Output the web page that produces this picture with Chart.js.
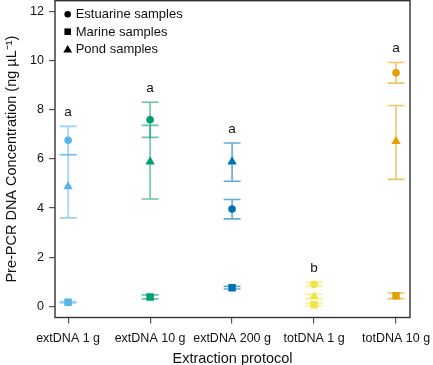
<!DOCTYPE html>
<html>
<head>
<meta charset="utf-8">
<script src="https://cdn.jsdelivr.net/npm/chart.js@4.4.1/dist/chart.umd.min.js"></script>
<style>
  html, body { margin: 0; padding: 0; background: #fff; }
  #wrap { width: 433px; height: 365px; }
</style>
</head>
<body>
<div id="wrap"><canvas id="c" width="433" height="365"></canvas></div>
<script>
// ---- data ----
const categories = ['extDNA 1 g', 'extDNA 10 g', 'extDNA 200 g', 'totDNA 1 g', 'totDNA 10 g'];
const categoryColors = ['#56B4E9', '#009E73', '#0072B2', '#F0E442', '#E69F00'];

const estuarineMean = [6.76, 7.60, 3.96, 0.89, 9.51];
const estuarineLow  = [6.18, 6.88, 3.56, 0.81, 9.09];
const estuarineHigh = [7.33, 8.31, 4.35, 0.97, 9.93];

const marineMean = [0.16, 0.38, 0.75, 0.06, 0.43];
const marineLow  = [0.13, 0.30, 0.70, 0.02, 0.31];
const marineHigh = [0.19, 0.46, 0.81, 0.12, 0.54];

const pondMean = [4.88, 5.89, 5.89, 0.40, 6.72];
const pondLow  = [3.60, 4.37, 5.09, 0.31, 5.17];
const pondHigh = [6.16, 7.37, 6.65, 0.49, 8.18];

const groupLetters = ['a', 'a', 'a', 'b', 'a'];
const letterY = [7.89, 8.89, 7.22, 1.54, 10.5];

const yTicks = [0, 2, 4, 6, 8, 10, 12];
const legendLabels = ['Estuarine samples', 'Marine samples', 'Pond samples'];

// ---- helpers ----
function hexA(hex, a) {
  const n = parseInt(hex.slice(1), 16);
  return `rgba(${(n >> 16) & 255},${(n >> 8) & 255},${n & 255},${a})`;
}
function pts(arr) { return arr.map((v, i) => ({ x: i, y: v })); }

const series = [
  { label: legendLabels[0], mean: estuarineMean, low: estuarineLow, high: estuarineHigh, style: 'circle', r: 3.8 },
  { label: legendLabels[1], mean: marineMean, low: marineLow, high: marineHigh, style: 'rect', r: 5.3 },
  { label: legendLabels[2], mean: pondMean, low: pondLow, high: pondHigh, style: 'triangle', r: 5.4 }
];

const FONT = '"Liberation Sans", Arial, Helvetica, sans-serif';

const extras = {
  id: 'extras',
  beforeDatasetsDraw(chart) {
    const ctx = chart.ctx, xs = chart.scales.x, ys = chart.scales.y;
    ctx.save();
    ctx.lineWidth = 1.6;
    series.forEach(s => {
      s.mean.forEach((m, i) => {
        const x = xs.getPixelForValue(i);
        const yl = ys.getPixelForValue(s.low[i]);
        const yh = ys.getPixelForValue(s.high[i]);
        const hw = 8.5;
        ctx.strokeStyle = hexA(categoryColors[i], 0.6);
        ctx.beginPath();
        ctx.moveTo(x, yl); ctx.lineTo(x, yh);
        ctx.moveTo(x - hw, yl); ctx.lineTo(x + hw, yl);
        ctx.moveTo(x - hw, yh); ctx.lineTo(x + hw, yh);
        ctx.stroke();
      });
    });
    ctx.restore();
  },
  afterDatasetsDraw(chart) {
    const ctx = chart.ctx, xs = chart.scales.x, ys = chart.scales.y, ca = chart.chartArea;
    ctx.save();
    // group letters
    ctx.fillStyle = '#111';
    ctx.font = '13.5px ' + FONT;
    ctx.textAlign = 'center';
    ctx.textBaseline = 'middle';
    groupLetters.forEach((t, i) => {
      ctx.fillText(t, xs.getPixelForValue(i), ys.getPixelForValue(letterY[i]));
    });
    // legend
    ctx.textAlign = 'left';
    ctx.font = '13px ' + FONT;
    const lx = ca.left + 12.7, ly0 = ca.top + 13.5, step = 17.5;
    series.forEach((s, k) => {
      const y = ly0 + k * step;
      ctx.fillStyle = '#000';
      ctx.beginPath();
      if (s.style === 'circle') {
        ctx.arc(lx, y, 3.3, 0, Math.PI * 2);
      } else if (s.style === 'rect') {
        ctx.rect(lx - 3.3, y - 3.3, 6.6, 6.6);
      } else {
        ctx.moveTo(lx, y - 4.2); ctx.lineTo(lx + 4.4, y + 3.4); ctx.lineTo(lx - 4.4, y + 3.4); ctx.closePath();
      }
      ctx.fill();
      ctx.fillStyle = '#111';
      ctx.fillText(s.label, lx + 8, y + 0.5);
    });
    ctx.restore();
  },
  afterDraw(chart) {
    const ctx = chart.ctx, ca = chart.chartArea;
    ctx.save();
    ctx.strokeStyle = '#333';
    ctx.lineWidth = 1.4;
    ctx.strokeRect(ca.left, ca.top, ca.right - ca.left, ca.bottom - ca.top);
    ctx.restore();
  }
};

new Chart(document.getElementById('c'), {
  type: 'scatter',
  data: {
    datasets: series.map(s => ({
      label: s.label,
      data: pts(s.mean),
      pointStyle: s.style,
      pointRadius: s.r,
      pointHoverRadius: s.r,
      pointBackgroundColor: categoryColors,
      pointBorderColor: categoryColors,
      pointBorderWidth: 0
    }))
  },
  options: {
    responsive: false,
    animation: false,
    events: [],
    layout: { autoPadding: false, padding: { left: 0, right: 23, top: 0.7, bottom: 0 } },
    plugins: { legend: { display: false }, tooltip: { enabled: false } },
    scales: {
      x: {
        type: 'linear',
        min: -0.16,
        max: 4.17,
        afterBuildTicks: sc => { sc.ticks = categories.map((c, i) => ({ value: i })); },
        afterFit: sc => { sc.height = 47.5; sc.paddingLeft = 0; sc.paddingRight = 0; },
        ticks: {
          callback: (v) => categories[v] !== undefined ? categories[v] : '',
          color: '#111',
          font: { family: FONT, size: 12.5 },
          padding: 8,
          maxRotation: 0,
          autoSkip: false
        },
        grid: { drawOnChartArea: false, drawTicks: true, tickLength: 6, color: '#555', lineWidth: 1.2 },
        border: { display: false },
        title: { display: true, text: 'Extraction protocol', color: '#111', font: { family: FONT, size: 14.5 }, padding: { top: 0, bottom: -3 } }
      },
      y: {
        type: 'linear',
        min: -0.46,
        max: 12.45,
        afterBuildTicks: sc => { sc.ticks = yTicks.map(v => ({ value: v })); },
        afterFit: sc => { sc.width = 55; sc.paddingTop = 0; sc.paddingBottom = 0; },
        ticks: {
          color: '#111',
          font: { family: FONT, size: 12.5 },
          padding: 5
        },
        grid: { drawOnChartArea: false, drawTicks: true, tickLength: 6, color: '#555', lineWidth: 1.2 },
        border: { display: false },
        title: { display: true, text: 'Pre-PCR DNA Concentration (ng µL⁻¹)', color: '#111', font: { family: FONT, size: 14.5 }, padding: { top: 3, bottom: 0 } }
      }
    }
  },
  plugins: [extras]
});
</script>
</body>
</html>
